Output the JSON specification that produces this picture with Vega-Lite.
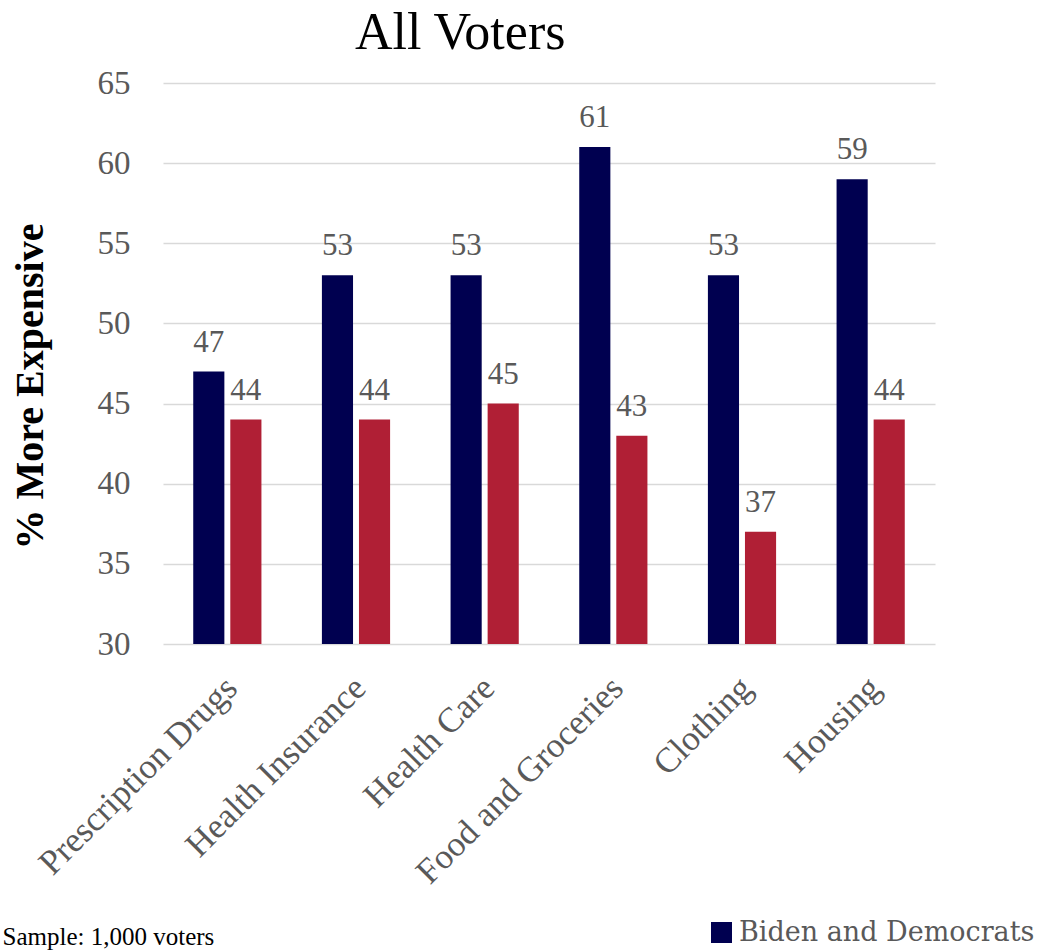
{
  "$schema": "https://vega.github.io/schema/vega-lite/v6.json",
  "autosize": {"type": "none"},
  "width": 772,
  "height": 561,
  "padding": {"left": 163, "top": 83, "right": 121, "bottom": 306},
  "background": "white",
  "config": {"view": {"stroke": null}},
  "title": {
    "text": "All Voters",
    "anchor": "start",
    "frame": "group",
    "dx": 192,
    "font": "Liberation Serif",
    "fontSize": 52,
    "fontWeight": "normal",
    "color": "black",
    "offset": 7
  },
  "data": {
    "values": [
      {"category": "Prescription Drugs", "series": "Biden and Democrats", "value": 47},
      {"category": "Prescription Drugs", "series": "Trump and Republicans", "value": 44},
      {"category": "Health Insurance", "series": "Biden and Democrats", "value": 53},
      {"category": "Health Insurance", "series": "Trump and Republicans", "value": 44},
      {"category": "Health Care", "series": "Biden and Democrats", "value": 53},
      {"category": "Health Care", "series": "Trump and Republicans", "value": 45},
      {"category": "Food and Groceries", "series": "Biden and Democrats", "value": 61},
      {"category": "Food and Groceries", "series": "Trump and Republicans", "value": 43},
      {"category": "Clothing", "series": "Biden and Democrats", "value": 53},
      {"category": "Clothing", "series": "Trump and Republicans", "value": 37},
      {"category": "Housing", "series": "Biden and Democrats", "value": 59},
      {"category": "Housing", "series": "Trump and Republicans", "value": 44}
    ]
  },
  "encoding": {
    "x": {
      "field": "category",
      "type": "nominal",
      "sort": null,
      "scale": {"paddingInner": 0.47, "paddingOuter": 0.235},
      "axis": {
        "title": "Sample: 1,000 voters",
        "titleX": -161,
        "titleY": 300,
        "titleAlign": "left",
        "titleAnchor": null,
        "titleBaseline": "alphabetic",
        "titleFont": "Liberation Serif",
        "titleFontSize": 25,
        "titleFontWeight": "normal",
        "titleColor": "black",
        "labelAngle": -45,
        "labelFont": "Liberation Serif",
        "labelFontSize": 35,
        "labelColor": "#595959",
        "labelPadding": 26,
        "labelOffset": -8,
        "labelLimit": 0,
        "labelOverlap": false,
        "ticks": false,
        "domain": false,
        "grid": false
      }
    },
    "xOffset": {
      "field": "series",
      "type": "nominal",
      "sort": ["Biden and Democrats", "Trump and Republicans"],
      "scale": {"paddingInner": 0.16, "paddingOuter": 0}
    },
    "y": {
      "field": "value",
      "type": "quantitative",
      "scale": {"domain": [30, 65], "zero": false, "nice": false},
      "axis": {
        "values": [30, 35, 40, 45, 50, 55, 60, 65],
        "title": "% More Expensive",
        "titleFont": "Liberation Serif",
        "titleFontSize": 40,
        "titleFontWeight": "bold",
        "titleColor": "black",
        "titleX": -133,
        "titleY": 303,
        "titleAlign": "center",
        "titleBaseline": "middle",
        "titleAngle": -90,
        "labelFont": "Liberation Serif",
        "labelFontSize": 33,
        "labelColor": "#595959",
        "labelPadding": 33,
        "ticks": false,
        "domain": false,
        "grid": true,
        "gridColor": "#d9d9d9",
        "gridWidth": 1.5
      }
    }
  },
  "layer": [
    {
      "mark": {"type": "bar"},
      "encoding": {
        "y2": {"datum": 30},
        "color": {
          "field": "series",
          "type": "nominal",
          "sort": ["Biden and Democrats", "Trump and Republicans"],
          "scale": {"domain": ["Biden and Democrats", "Trump and Republicans"], "range": ["#000050", "#B01F35"]},
          "legend": {
            "title": null,
            "orient": "none",
            "legendX": 545,
            "legendY": 836,
            "direction": "horizontal",
            "values": ["Biden and Democrats"],
            "symbolType": "square",
            "symbolSize": 441,
            "symbolStrokeWidth": 0,
            "symbolOpacity": 1,
            "labelFont": "DejaVu Serif",
            "labelFontSize": 27,
            "labelColor": "#595959",
            "labelOffset": 4,
            "labelLimit": 0,
            "padding": 0
          }
        }
      }
    },
    {
      "mark": {"type": "text", "font": "Liberation Serif", "fontSize": 31, "color": "#595959", "baseline": "alphabetic", "dy": -20},
      "encoding": {
        "text": {"field": "value", "type": "quantitative"}
      }
    }
  ]
}
